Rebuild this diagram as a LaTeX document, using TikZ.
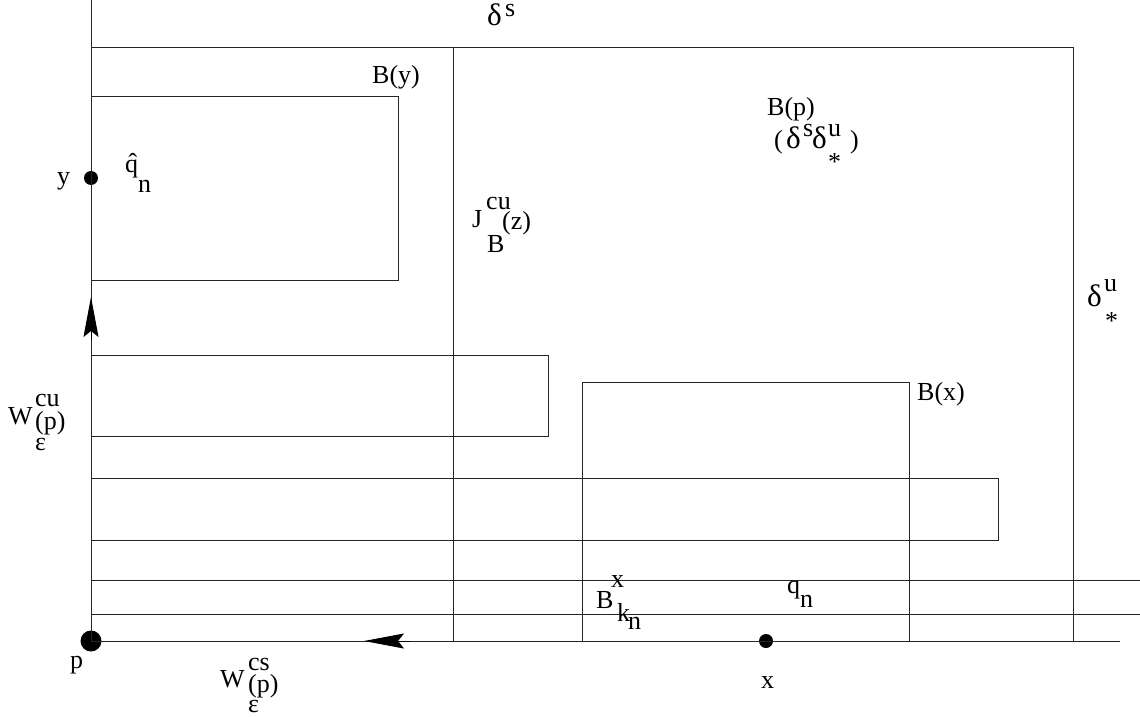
\documentclass[tikz,border=0pt]{standalone}
\usepackage{fontspec}
\setmainfont{Liberation Serif}
\usetikzlibrary{arrows.meta}
\newcommand{\bigdelta}{\scalebox{1.2}{δ}}
\begin{document}
\begin{tikzpicture}[x=1pt,y=-1pt,
  ln/.style={line width=0.9pt, black!85},
  lab/.style={anchor=base west, inner sep=0pt, font=\fontsize{26}{26}\selectfont},
  dot/.style={circle, fill=black, inner sep=0pt, minimum size=#1},
  arr/.style={-{Stealth[length=40pt,width=15pt,inset=6pt]}, line width=0.9pt}]
\useasboundingbox (0,0) rectangle (1140,717);
% named points
\coordinate (top) at (91,0);
\coordinate (tl) at (91,47);
\coordinate (tr) at (1073,47);
\coordinate (br) at (1073,641);
\coordinate (m1) at (453,47);
\coordinate (m2) at (453,641);
\coordinate (bend) at (1120,641);
\coordinate (l1a) at (91,580);
\coordinate (l1b) at (1140,580);
\coordinate (l2a) at (91,614);
\coordinate (l2b) at (1140,614);
\coordinate (by1) at (91,96);
\coordinate (by2) at (398,280);
\coordinate (r1) at (91,355);
\coordinate (r2) at (548,436);
\coordinate (bx1) at (582,382);
\coordinate (bx2) at (909,382);
\coordinate (bx3) at (909,641);
\coordinate (bx4) at (582,641);
\coordinate (lr1) at (91,478);
\coordinate (lr2) at (998,540);
\coordinate (bk1) at (582,580);
\coordinate (bk2) at (909,614);
\coordinate (au0) at (91,340);
\coordinate (au1) at (91,297);
\coordinate (al0) at (410,641);
\coordinate (al1) at (364,641);
% dots
\node[dot=21pt] (p) at (91,641) {};
\node[dot=14pt] (y) at (91,178) {};
\node[dot=14pt] (x) at (766,641) {};
% lines
\draw[ln] (top) -- (p.center);
\draw[ln] (tl) -- (tr) -- (br);
\draw[ln] (m1) -- (m2);
\draw[ln] (p.center) -- (bend);
\draw[ln] (l1a) -- (l1b);
\draw[ln] (l2a) -- (l2b);
\draw[ln] (by1) rectangle (by2);
\draw[ln] (r1) rectangle (r2);
\draw[ln] (bx4) -- (bx1) -- (bx2) -- (bx3);
\draw[ln] (lr1) rectangle (lr2);
\draw[ln] (bk1) rectangle (bk2);
\draw[arr] (au0) -- (au1);
\draw[arr] (al0) -- (al1);
% labels
\node[lab] (ds) at (487,26) {\bigdelta};
\node[lab] (dss) at (505,17) {s};
\node[lab] (lby) at (372,83) {B(y)};
\node[lab] (lbp) at (767,115) {B(p)};
\node[lab] (lbp1) at (774,148) {(};
\node[lab] (lbp2) at (786,148) {\bigdelta};
\node[lab] (lbp3) at (803,136) {s};
\node[lab] (lbp4) at (812,148) {\bigdelta};
\node[lab] (lbp5) at (828,136) {u};
\node[lab] (lbp6) at (828,170) {*};
\node[lab] (lbp7) at (850,148) {)};
\node[lab] (ly) at (57,184) {y};
\node[lab] (lq) at (125,172) {\^{q}};
\node[lab] (lqn) at (138,192) {n};
\node[lab] (lj) at (472,227) {J};
\node[lab] (ljcu) at (486,209) {cu};
\node[lab] (ljz) at (502,229) {(z)};
\node[lab] (ljb) at (487,252) {B};
\node[lab] (ldu) at (1087,306) {\bigdelta};
\node[lab] (ldu2) at (1104,291) {u};
\node[lab] (ldu3) at (1105,329) {*};
\node[lab] (lbx) at (917,400) {B(x)};
\node[lab] (lw1) at (8,424) {W};
\node[lab] (lw1cu) at (35,406) {cu};
\node[lab] (lw1p) at (35,429) {(p)};
\node[lab] (lw1e) at (35,450) {ε};
\node[lab] (lbk) at (596,608) {B};
\node[lab] (lbkx) at (611,587) {x};
\node[lab] (lbkk) at (617,621) {k};
\node[lab] (lbkn) at (628,629) {n};
\node[lab] (lqq) at (787,593) {q};
\node[lab] (lqqn) at (800,607) {n};
\node[lab] (lp) at (70,668) {p};
\node[lab] (lx) at (761,688) {x};
\node[lab] (lw2) at (220,687) {W};
\node[lab] (lw2cs) at (248,670) {cs};
\node[lab] (lw2p) at (248,692) {(p)};
\node[lab] (lw2e) at (248,712) {ε};
\end{tikzpicture}
\end{document}
